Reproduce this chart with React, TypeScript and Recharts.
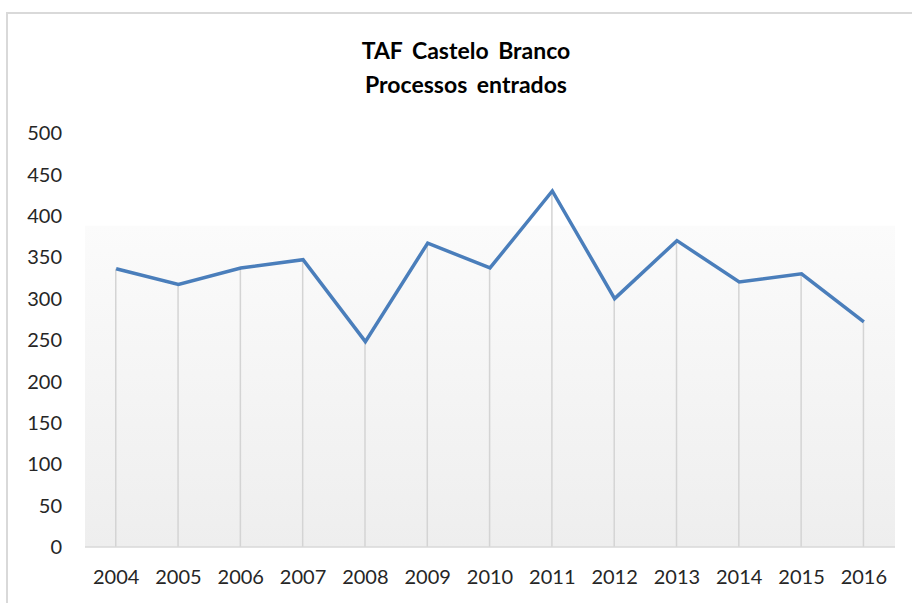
import React from "react";
import {
  ComposedChart,
  Line,
  Bar,
  XAxis,
  YAxis,
  ReferenceArea,
} from "recharts";

const years = ["2004", "2005", "2006", "2007", "2008", "2009", "2010", "2011", "2012", "2013", "2014", "2015", "2016"];
const processos = [336, 317, 337, 347, 248, 367, 337, 430, 300, 370, 320, 330, 272];
const yTicks = [0, 50, 100, 150, 200, 250, 300, 350, 400, 450, 500];

const data = years.map((year, i) => ({ year, value: processos[i] }));

const FONT = "Lato, 'Open Sans', sans-serif";

export default function App() {
  return (
    <div
      style={{
        position: "absolute",
        left: 0,
        top: 0,
        width: 912,
        height: 603,
        background: "#fff",
        overflow: "hidden",
        fontFamily: FONT,
      }}
    >
      {/* chart frame, cut off on right and bottom */}
      <div
        style={{
          position: "absolute",
          left: 6,
          top: 12,
          width: 1000,
          height: 700,
          borderTop: "2px solid #d9d9d9",
          borderLeft: "2px solid #d9d9d9",
        }}
      />
      <div
        style={{
          position: "absolute",
          left: 266,
          top: 33,
          width: 400,
          textAlign: "center",
          fontWeight: 700,
          fontSize: 23,
          lineHeight: "34px",
          color: "#000",
          wordSpacing: 4,
        }}
      >
        <div>TAF Castelo Branco</div>
        <div>Processos entrados</div>
      </div>
      <div style={{ position: "absolute", left: 0, top: 0 }}>
        <ComposedChart
          width={912}
          height={603}
          data={data}
          margin={{ top: 133, right: 17, bottom: 26, left: 0 }}
        >
          <defs>
            <linearGradient id="plotBg" x1="0" y1="0" x2="0" y2="1">
              <stop offset="0%" stopColor="#fbfbfb" />
              <stop offset="100%" stopColor="#eeeeee" />
            </linearGradient>
          </defs>
          <YAxis
            width={85}
            domain={[0, 500]}
            ticks={yTicks}
            interval={0}
            axisLine={false}
            tickLine={false}
            tickSize={0}
            tickMargin={23}
            tick={{ fill: "#262626", fontSize: 20, fontFamily: FONT }}
          />
          <XAxis
            dataKey="year"
            height={30}
            axisLine={{ stroke: "#d9d9d9", strokeWidth: 1.5 }}
            tickLine={false}
            tickSize={0}
            tickMargin={23}
            interval={0}
            tick={{ fill: "#262626", fontSize: 20, fontFamily: FONT }}
          />
          <ReferenceArea y1={0} y2={388} fill="url(#plotBg)" fillOpacity={1} stroke="none" ifOverflow="hidden" />
          <Bar dataKey="value" barSize={1.5} fill="#d4d4d4" isAnimationActive={false} />
          <Line
            type="linear"
            dataKey="value"
            stroke="#4a7ebb"
            strokeWidth={3.5}
            dot={false}
            activeDot={false}
            isAnimationActive={false}
          />
        </ComposedChart>
      </div>
    </div>
  );
}
